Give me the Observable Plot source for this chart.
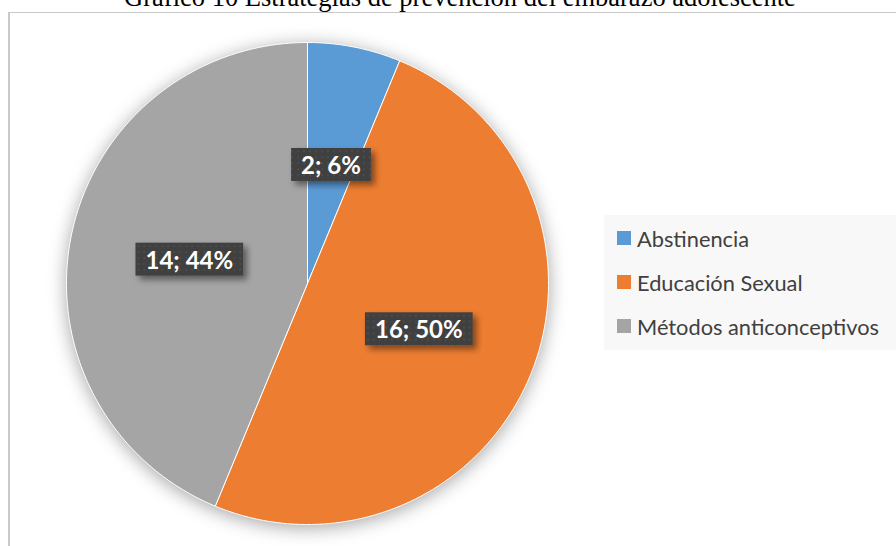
<!DOCTYPE html>
<html>
<head>
<meta charset="utf-8">
<script src="https://cdn.jsdelivr.net/npm/d3@7"></script>
<script src="https://cdn.jsdelivr.net/npm/@observablehq/plot@0.6"></script>
<style>
  html, body { margin: 0; padding: 0; background: #fff; }
  #wrap { position: relative; width: 896px; height: 546px; overflow: hidden; }
  #frame { position: absolute; left: 8px; top: 12px; width: 900px; height: 560px;
           border-left: 2px solid #c9c9c9; border-top: 1px solid #c9c9c9; box-sizing: border-box; }
  #title { position: absolute; left: 0; top: -18px; width: 920px; text-align: center;
           font-family: "Liberation Serif", "Times New Roman", serif; font-size: 26.5px; color: #000; white-space: nowrap; }
  #legend { position: absolute; left: 604px; top: 215px; width: 300px; height: 135px; background: #f8f8f8;
            font-family: Lato, sans-serif; font-size: 21.8px; color: #404040; }
  .item { position: absolute; left: 13px; height: 20px; display: flex; align-items: center; white-space: nowrap; }
  .sw { width: 14px; height: 14px; margin-right: 6px; flex: none; }
  #chart { position: absolute; left: 0; top: 0; }
  #chart .slices { filter: drop-shadow(0px 3px 9px rgba(0,0,0,0.35)); }
</style>
</head>
<body>
<div id="wrap">
  <div id="frame"></div>
  <div id="chart"></div>
  <div id="title"></div>
  <div id="legend"></div>
</div>
<script>
const title = "Gráfico 10 Estrategias de prevención del embarazo adolescente";
const categories = ["Abstinencia", "Educación Sexual", "Métodos anticonceptivos"];
const values = [2, 16, 14];
const percents = ["6%", "50%", "44%"];
const colors = ["#5b9bd5", "#ed7d31", "#a5a5a5"];

document.getElementById("title").textContent = title;

const arcs = d3.pie().sort(null).startAngle(0).endAngle(2 * Math.PI)(values);

// slice outlines: center -> arc edge -> center, sampled along the arc
const slicePts = [];
arcs.forEach((a, i) => {
  const n = Math.max(2, Math.ceil((a.endAngle - a.startAngle) / 0.01));
  slicePts.push({cat: categories[i], x: 0, y: 0});
  for (let k = 0; k <= n; k++) {
    const t = a.startAngle + (a.endAngle - a.startAngle) * k / n;
    slicePts.push({cat: categories[i], x: Math.sin(t), y: Math.cos(t)});
  }
  slicePts.push({cat: categories[i], x: 0, y: 0});
});

const labels = arcs.map((a, i) => {
  const m = (a.startAngle + a.endAngle) / 2;
  return {cat: categories[i], text: `${values[i]}; ${percents[i]}`, x: 0.5 * Math.sin(m), y: 0.5 * Math.cos(m)};
});

const chart = Plot.plot({
  width: 896,
  height: 546,
  marginLeft: 66,
  marginRight: 348,
  marginTop: 42,
  marginBottom: 22,
  x: {domain: [-1, 1], axis: null},
  y: {domain: [-1, 1], axis: null},
  color: {domain: categories, range: colors},
  style: {background: "transparent", overflow: "visible"},
  marks: [
    Plot.line(slicePts, {x: "x", y: "y", z: "cat", fill: "cat", stroke: "#ffffff", strokeWidth: 1, className: "slices"}),
    Plot.text(labels, {x: "x", y: "y", text: "text", fill: "#ffffff", fontSize: 24, fontWeight: "bold",
      fontFamily: "Lato, sans-serif", className: "labels", dy: 1})
  ]
});
document.getElementById("chart").appendChild(chart);

// label boxes
const ns = "http://www.w3.org/2000/svg";
const defs = document.createElementNS(ns, "defs");
defs.innerHTML = `
  <pattern id="dots" width="6" height="6" patternUnits="userSpaceOnUse">
    <rect width="6" height="6" fill="#404040"/>
    <rect x="2" y="2" width="2" height="2" fill="#4b4b4b"/>
  </pattern>
  <filter id="shad" x="-20%" y="-30%" width="150%" height="180%">
    <feDropShadow dx="4" dy="4" stdDeviation="3" flood-color="#000" flood-opacity="0.45"/>
  </filter>`;
chart.insertBefore(defs, chart.firstChild);
const lg = chart.querySelector("g.labels");
if (lg) lg.querySelectorAll("text").forEach(t => {
  const b = t.getBBox();
  const r = document.createElementNS(ns, "rect");
  const padX = 10;
  r.setAttribute("x", b.x - padX);
  r.setAttribute("y", b.y + b.height / 2 - 16.5);
  r.setAttribute("width", b.width + 2 * padX);
  r.setAttribute("height", 33);
  r.setAttribute("fill", "url(#dots)");
  r.setAttribute("filter", "url(#shad)");
  const tr = t.getAttribute("transform");
  if (tr) r.setAttribute("transform", tr);
  t.parentNode.insertBefore(r, t);
});

// legend
const leg = document.getElementById("legend");
categories.forEach((c, i) => {
  const d = document.createElement("div");
  d.className = "item";
  d.style.top = (13 + i * 44) + "px";
  d.innerHTML = `<span class="sw" style="background:${colors[i]}"></span><span>${c}</span>`;
  leg.appendChild(d);
});
</script>
</body>
</html>
